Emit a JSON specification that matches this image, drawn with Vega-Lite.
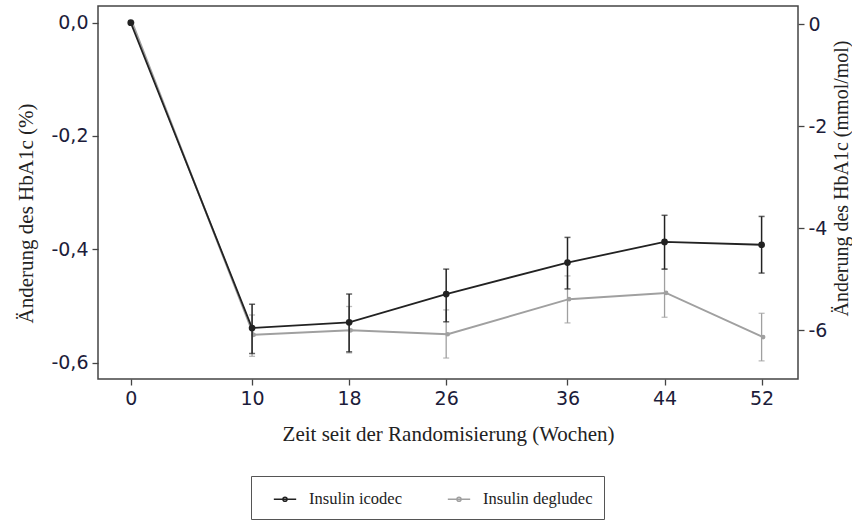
{
  "$schema": "https://vega.github.io/schema/vega-lite/v6.json",
  "width": 700,
  "height": 373,
  "padding": {"left": 15, "top": 6, "right": 0, "bottom": 0},
  "background": "white",
  "config": {
    "view": {"stroke": "#444444", "strokeWidth": 1.5},
    "axis": {
      "grid": false,
      "domain": false,
      "tickColor": "#444444",
      "tickWidth": 1.3,
      "tickSize": 6,
      "labelFont": "DejaVu Sans",
      "labelFontSize": 19,
      "labelColor": "#1c1c3a",
      "labelPadding": 4,
      "titleFont": "Liberation Serif",
      "titleFontSize": 21,
      "titleFontWeight": "normal",
      "titleColor": "#222222"
    }
  },
  "data": {
    "values": [
      {"week": 0, "series": "Insulin icodec", "pct": 0, "lo": null, "hi": null},
      {"week": 10, "series": "Insulin icodec", "pct": -0.539, "lo": -0.584, "hi": -0.497},
      {"week": 18, "series": "Insulin icodec", "pct": -0.529, "lo": -0.581, "hi": -0.479},
      {"week": 26, "series": "Insulin icodec", "pct": -0.479, "lo": -0.528, "hi": -0.435},
      {"week": 36, "series": "Insulin icodec", "pct": -0.4235, "lo": -0.47, "hi": -0.379},
      {"week": 44, "series": "Insulin icodec", "pct": -0.387, "lo": -0.435, "hi": -0.34},
      {"week": 52, "series": "Insulin icodec", "pct": -0.392, "lo": -0.442, "hi": -0.342},
      {"week": 0, "series": "Insulin degludec", "pct": 0, "lo": null, "hi": null},
      {"week": 10, "series": "Insulin degludec", "pct": -0.551, "lo": -0.589, "hi": -0.516},
      {"week": 18, "series": "Insulin degludec", "pct": -0.543, "lo": -0.583, "hi": -0.501},
      {"week": 26, "series": "Insulin degludec", "pct": -0.55, "lo": -0.592, "hi": -0.507},
      {"week": 36, "series": "Insulin degludec", "pct": -0.488, "lo": -0.53, "hi": -0.447},
      {"week": 44, "series": "Insulin degludec", "pct": -0.477, "lo": -0.52, "hi": -0.435},
      {"week": 52, "series": "Insulin degludec", "pct": -0.555, "lo": -0.597, "hi": -0.513}
    ]
  },
  "encoding": {
    "x": {
      "field": "week",
      "type": "quantitative",
      "scale": {"domain": [-2.7, 55], "nice": false, "zero": false},
      "axis": {
        "values": [0, 10, 18, 26, 36, 44, 52],
        "title": "Zeit seit der Randomisierung (Wochen)",
        "titlePadding": 15
      }
    }
  },
  "layer": [
    {
      "layer": [
        {
          "transform": [{"filter": "datum.series == 'Insulin degludec'"}],
          "mark": {"type": "line", "strokeWidth": 2, "xOffset": 1.5},
          "encoding": {
            "y": {"field": "pct", "type": "quantitative", "scale": {"domain": [-0.629, 0.0295], "nice": false, "zero": false},
              "axis": {"values": [0, -0.2, -0.4, -0.6], "labelExpr": "(datum.value < 0 ? '-' : '') + replace(format(abs(datum.value), '.1f'), '.', ',')", "title": "Änderung des HbA1c (%)", "titlePadding": 14, "titleY": 207}},
            "color": {
              "field": "series", "type": "nominal",
              "scale": {"domain": ["Insulin icodec", "Insulin degludec"], "range": ["#222222", "#a0a0a0"]},
              "legend": {
                "title": null,
                "orient": "none",
                "legendX": 153,
                "legendY": 470,
                "direction": "horizontal",
                "strokeColor": "#555555",
                "padding": 11,
                "symbolOffset": 11,
                "symbolType": "M-1,0L1,0M-0.18,0A0.18,0.18 0 1,0 0.18,0A0.18,0.18 0 1,0 -0.18,0",
                "symbolSize": 500,
                "symbolStrokeWidth": 1.6,
                "labelFont": "Liberation Serif",
                "labelFontSize": 16.5,
                "labelColor": "#222222",
                "labelOffset": 12,
                "columnPadding": 33
              }
            }
          }
        },
        {
          "transform": [{"filter": "datum.series == 'Insulin degludec' && isValid(datum.lo)"}],
          "mark": {"type": "errorbar", "ticks": true, "size": 6, "thickness": 1.3, "color": "#a0a0a0", "xOffset": 1.5},
          "encoding": {
            "y": {"field": "lo", "type": "quantitative", "title": "Änderung des HbA1c (%)"},
            "y2": {"field": "hi"}
          }
        },
        {
          "transform": [{"filter": "datum.series == 'Insulin degludec'"}],
          "mark": {"type": "point", "filled": true, "size": 22, "opacity": 1, "color": "#a0a0a0", "xOffset": 1.5},
          "encoding": {
            "y": {"field": "pct", "type": "quantitative", "title": "Änderung des HbA1c (%)"}
          }
        },
        {
          "transform": [{"filter": "datum.series == 'Insulin icodec'"}],
          "mark": {"type": "line", "strokeWidth": 1.8},
          "encoding": {
            "y": {"field": "pct", "type": "quantitative", "title": "Änderung des HbA1c (%)"},
            "color": {"field": "series", "type": "nominal"}
          }
        },
        {
          "transform": [{"filter": "datum.series == 'Insulin icodec' && isValid(datum.lo)"}],
          "mark": {"type": "errorbar", "ticks": true, "size": 6, "thickness": 1.5, "color": "#222222"},
          "encoding": {
            "y": {"field": "lo", "type": "quantitative", "title": "Änderung des HbA1c (%)"},
            "y2": {"field": "hi"}
          }
        },
        {
          "transform": [{"filter": "datum.series == 'Insulin icodec'"}],
          "mark": {"type": "point", "filled": true, "size": 45, "opacity": 1, "color": "#222222"},
          "encoding": {
            "y": {"field": "pct", "type": "quantitative", "title": "Änderung des HbA1c (%)"}
          }
        }
      ]
    },
    {
      "data": {"values": [{"mmol": 0}]},
      "mark": {"type": "rule", "opacity": 0},
      "encoding": {
        "x": null,
        "y": {
          "field": "mmol",
          "type": "quantitative",
          "scale": {"domain": [-6.96, 0.353], "nice": false, "zero": false},
          "axis": {
            "orient": "right",
            "values": [0, -2, -4, -6],
            "labelExpr": "(datum.value < 0 ? '-' : '') + format(abs(datum.value), 'd')",
            "title": "Änderung des HbA1c (mmol/mol)",
            "titleFontSize": 20,
            "titleAngle": 270,
            "titleBaseline": "top",
            "titlePadding": 5,
            "titleY": 172
          }
        }
      }
    }
  ],
  "resolve": {"scale": {"y": "independent"}}
}
